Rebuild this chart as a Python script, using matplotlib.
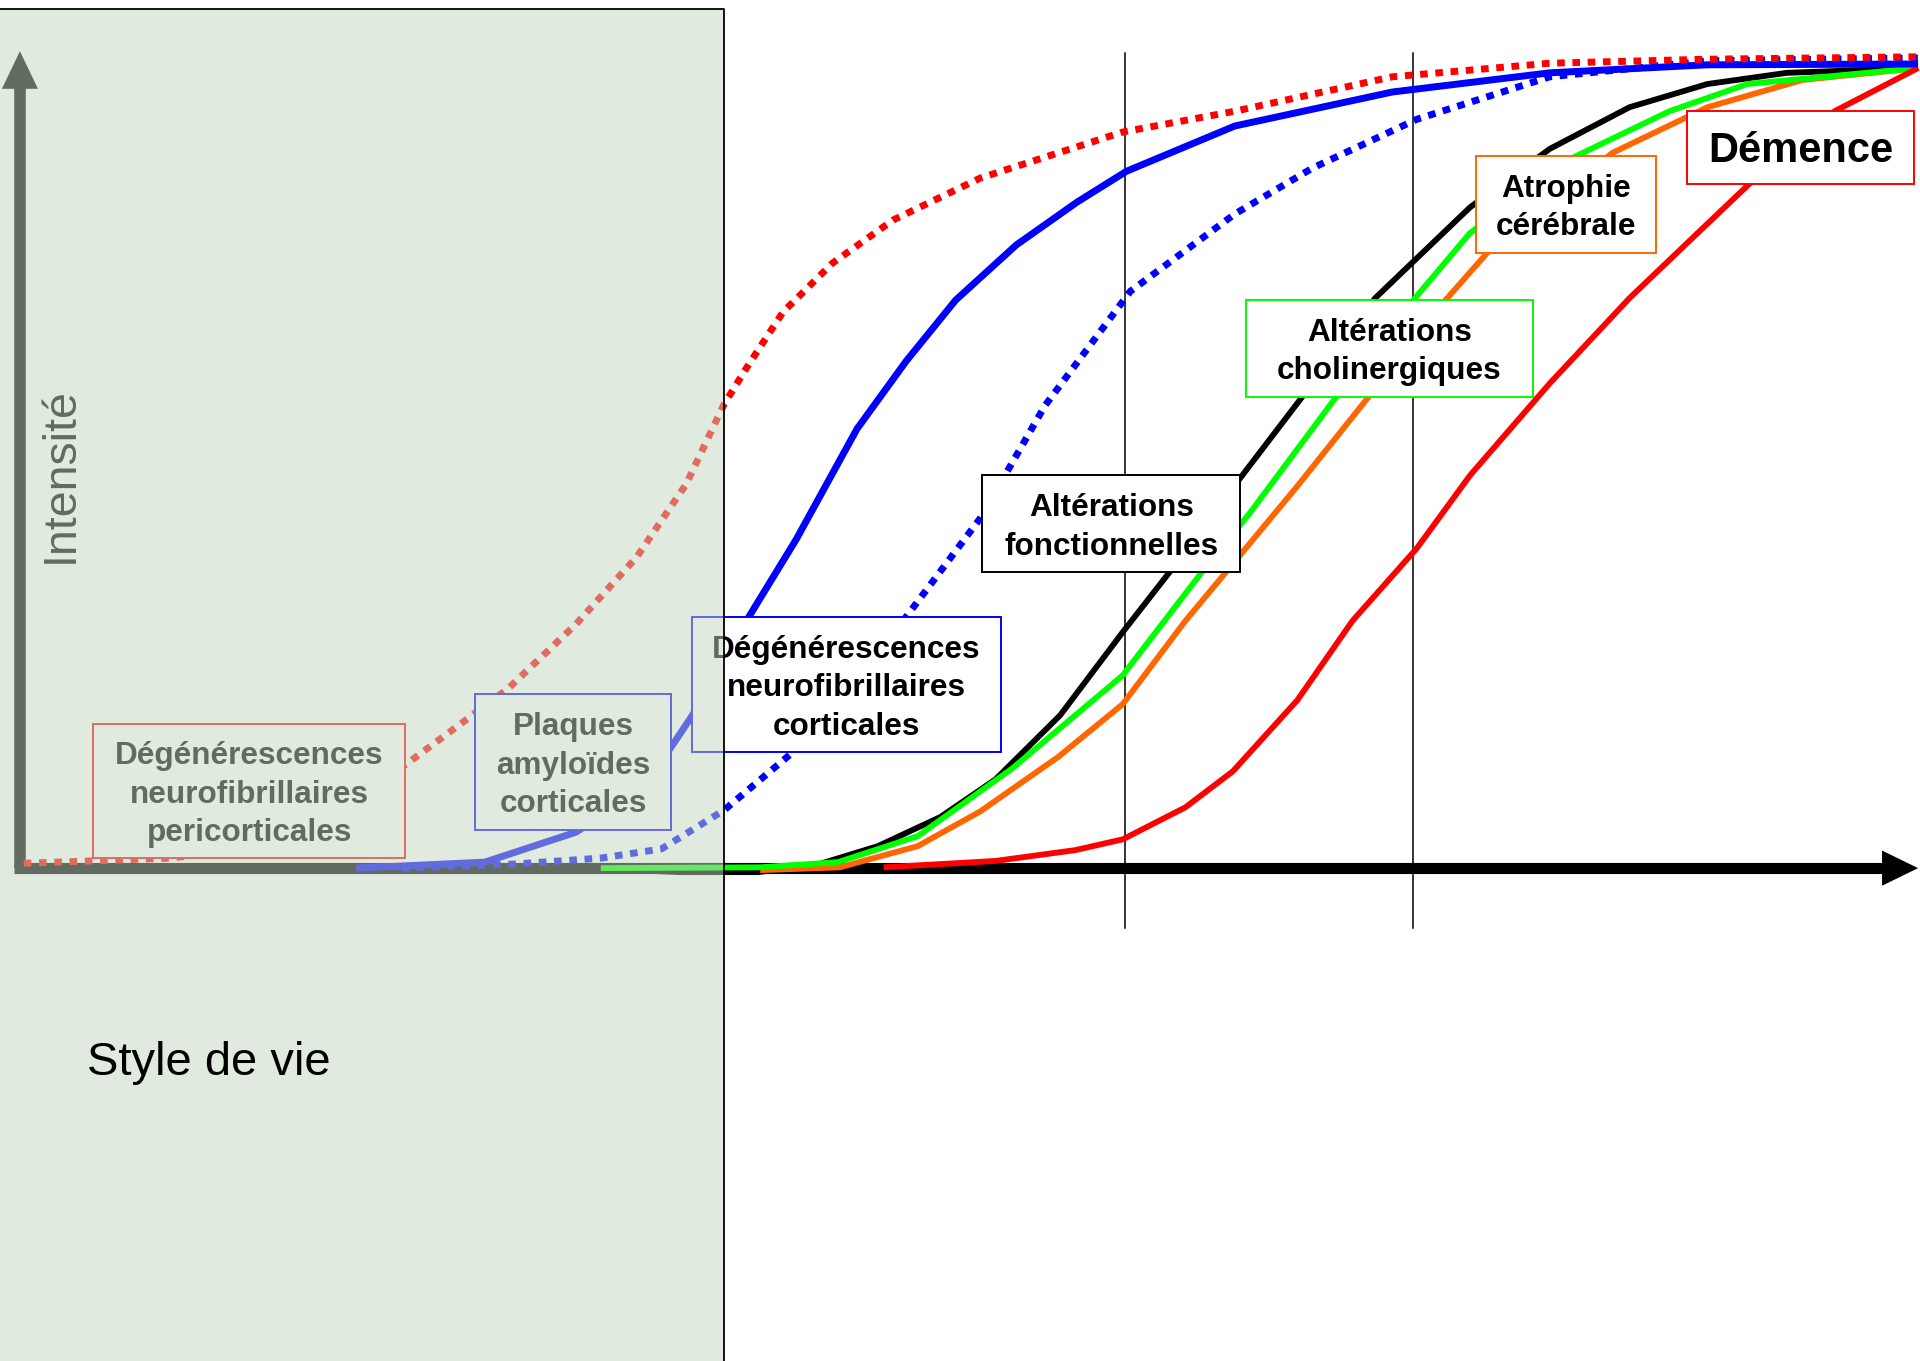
import matplotlib
matplotlib.use('Agg')
import matplotlib.pyplot as plt
from matplotlib.patches import Rectangle

plt.rcParams['font.family'] = ['Liberation Sans', 'DejaVu Sans']

# time (0-100) / intensity (0-100)
t_dnf_peri = [0.2, 7.9, 12.1, 16.3, 20.3, 25.7, 29.3, 32.5, 35.1, 37.1, 38.3, 40.2, 42.8, 46.0, 50.6, 58.1, 64.0, 72.3, 80.6, 88.9, 100]
y_dnf_peri = [0.6, 1.25, 2.4, 6.6, 12.9, 22.4, 30.5, 38.9, 48.0, 58.0, 62.6, 69.5, 75.6, 81.0, 86.25, 92.0, 94.6, 98.9, 100.6, 101.1, 101.4]

t_plaques = [17.7, 24.5, 29.3, 32.7, 34.3, 35.4, 36.9, 38.4, 40.9, 44.1, 46.7, 49.3, 52.5, 55.7, 58.3, 64.0, 72.3, 80.6, 88.9, 100]
y_plaques = [0.0, 0.75, 4.5, 9.75, 15.1, 19.0, 25.0, 31.4, 41.1, 54.9, 63.4, 71.0, 77.9, 83.25, 87.1, 92.75, 97.0, 99.4, 100.4, 100.5]

t_dnf_cort = [20.1, 26.0, 30.6, 33.8, 37.1, 40.6, 43.7, 46.8, 50.6, 54.0, 58.5, 64.0, 68.1, 73.6, 80.6, 88.9, 100]
y_dnf_cort = [0.0, 0.5, 1.25, 2.4, 7.25, 14.25, 22.25, 31.75, 43.75, 57.8, 72.1, 81.75, 87.5, 93.6, 98.9, 100.9, 101.25]

t_fonct = [30.6, 34.8, 38.9, 42.1, 45.2, 48.5, 51.4, 54.8, 58.1, 60.6, 64.4, 68.1, 71.4, 76.4, 80.6, 84.8, 88.9, 93.1, 100]
y_fonct = [-0.1, -0.5, -0.5, 0.5, 2.75, 6.4, 11.1, 19.1, 29.5, 37.1, 49.1, 60.6, 71.25, 82.6, 89.9, 95.1, 98.0, 99.4, 100]

t_cholin = [30.6, 39.0, 43.1, 47.3, 52.3, 58.1, 62.3, 64.8, 69.3, 73.5, 76.4, 81.9, 86.9, 91.0, 100]
y_cholin = [0.0, 0.1, 0.75, 4.0, 12.5, 24.1, 37.1, 44.4, 58.75, 71.25, 79.4, 88.9, 94.6, 98.0, 100]

t_atrophie = [39.0, 43.2, 47.3, 50.6, 54.7, 58.1, 61.4, 64.8, 67.3, 71.0, 75.2, 77.3, 83.9, 88.9, 93.9, 100]
y_atrophie = [-0.25, 0.1, 2.75, 7.1, 13.9, 20.5, 30.9, 40.6, 47.75, 58.75, 71.25, 76.9, 89.4, 95.1, 98.5, 100]

t_demence = [45.5, 51.4, 55.6, 58.1, 61.4, 63.9, 67.3, 70.2, 73.6, 76.4, 80.6, 84.8, 88.0, 91.1, 95.6, 100]
y_demence = [0.1, 0.9, 2.25, 3.6, 7.6, 12.1, 21.0, 30.9, 40.0, 49.1, 60.6, 71.25, 78.5, 85.5, 94.6, 100]

stades = [58.2, 73.4]

fig = plt.figure(figsize=(19.2, 13.61), dpi=100)
ax = fig.add_axes([0, 0, 1, 1])
ax.set_xlim(-1.05, 100.1)
ax.set_ylim(-61.6, 108.5)
ax.axis('off')

# axes with arrows
ax.plot([0, 0], [0, 97.6], color='black', lw=8.3, solid_capstyle='butt', zorder=1)
ax.fill([-0.95, 0.95, 0], [97.4, 97.4, 102.1], color='black', lw=0, zorder=1)
ax.plot([-0.3, 98.2], [0, 0], color='black', lw=8, solid_capstyle='butt', zorder=1)
ax.fill([98.1, 98.1, 100], [-2.2, 2.2, 0], color='black', lw=0, zorder=1)

for s in stades:
    ax.plot([s, s], [-7.5, 101.9], color='black', lw=1.1, zorder=1)

kw = dict(solid_joinstyle='round', solid_capstyle='butt')
ax.plot(t_fonct, y_fonct, color='black', lw=4.2, zorder=2, **kw)
ax.plot(t_atrophie, y_atrophie, color='#ff6600', lw=4.2, zorder=2, **kw)
ax.plot(t_cholin, y_cholin, color='#00ff00', lw=4.2, zorder=2, **kw)
ax.plot(t_demence, y_demence, color='#ff0000', lw=4.2, zorder=2, **kw)
ax.plot(t_dnf_cort, y_dnf_cort, color='#0000ff', lw=5, ls=(0, (1.1, 1.1)),
        dash_capstyle='butt', zorder=2)
ax.plot(t_plaques, y_plaques, color='#0000ff', lw=5, zorder=2, **kw)
ax.plot(t_dnf_peri, y_dnf_peri, color='#ff0000', lw=5, ls=(0, (1.1, 1.1)),
        dash_capstyle='butt', zorder=2)

# label boxes: (x0, x1, y0, y1, text, edge colour, size)
boxes = [
    (3.85, 20.3, 1.25, 18.0, 'Dégénérescences\nneurofibrillaires\npericorticales', '#ff0000', 22.7),
    (24.0, 34.3, 4.75, 21.75, 'Plaques\namyloïdes\ncorticales', '#0000ff', 22.7),
    (35.4, 51.7, 14.5, 31.4, 'Dégénérescences\nneurofibrillaires\ncorticales', '#0000ff', 22.7),
    (50.7, 64.3, 37.0, 49.1, 'Altérations\nfonctionnelles', 'black', 22.7),
    (64.6, 79.7, 58.9, 71.0, 'Altérations\ncholinergiques', '#00ff00', 22.7),
    (76.7, 86.2, 76.9, 89.0, 'Atrophie\ncérébrale', '#ff6600', 22.7),
    (87.8, 99.8, 85.5, 94.6, 'Démence', '#ff0000', 30),
]
for x0, x1, y0, y1, txt, ec, fs in boxes:
    ax.add_patch(Rectangle((x0, y0), x1 - x0, y1 - y0, facecolor='white',
                           edgecolor=ec, lw=1.4, zorder=3))
    ax.text((x0 + x1) / 2, (y0 + y1) / 2 - 0.45, txt, ha='center', va='center',
            fontsize=fs, fontweight='bold', linespacing=1.37, zorder=4)

ax.text(2.16, 49.1, 'Intensité', rotation=90, ha='center', va='center',
        fontsize=33.5, zorder=4)

# lifestyle zone overlay
ax.add_patch(Rectangle((-1.05, -61.6), 38.15, 169.0, facecolor='#c3d7be',
                       alpha=0.5, lw=0, zorder=5))
ax.plot([-1.05, 37.1, 37.1], [107.4, 107.4, -61.6], color='black', lw=1.3, zorder=6)
ax.text(3.53, -24.3, 'Style de vie', ha='left', va='center', fontsize=33.9, zorder=6)

fig.savefig('out.png', dpi=100)
